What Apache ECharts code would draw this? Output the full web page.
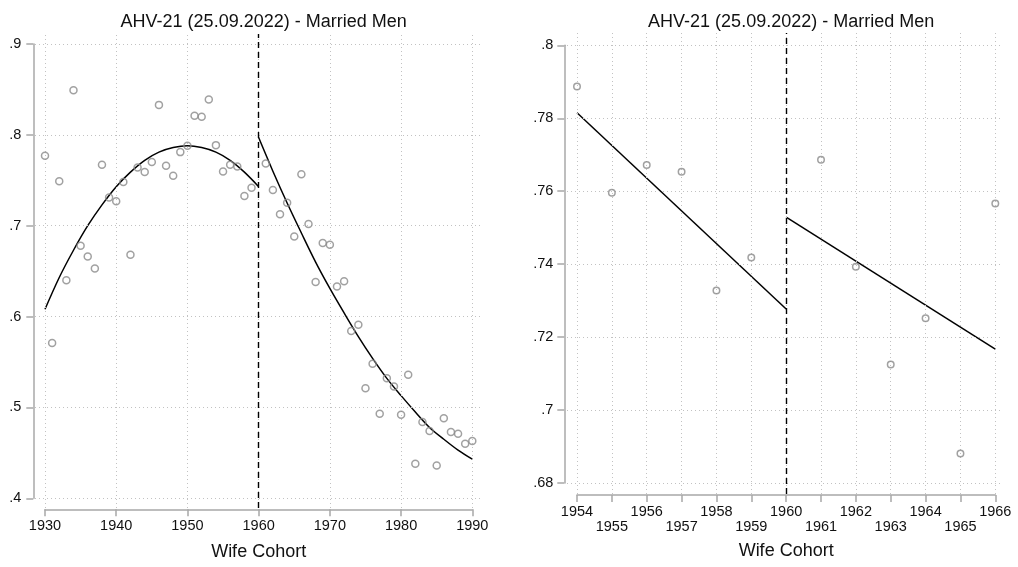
<!DOCTYPE html>
<html>
<head>
<meta charset="utf-8">
<title>AHV-21 (25.09.2022) - Married Men</title>
<script src="https://cdn.jsdelivr.net/npm/echarts@6/dist/echarts.min.js"></script>
<style>
  html, body { margin: 0; padding: 0; background: #fff; }
  #chart { width: 1018px; height: 567px; }
</style>
</head>
<body>
<div id="chart"></div>
<script>
// ---- data ---------------------------------------------------------------
const chartTitle = 'AHV-21 (25.09.2022) - Married Men';
const xTitle = 'Wife Cohort';
const cutoff = 1960;

// share by wife birth cohort (no observation for 1960)
const cohorts = [
  1930, 1931, 1932, 1933, 1934, 1935, 1936, 1937, 1938, 1939,
  1940, 1941, 1942, 1943, 1944, 1945, 1946, 1947, 1948, 1949,
  1950, 1951, 1952, 1953, 1954, 1955, 1956, 1957, 1958, 1959,
  1961, 1962, 1963, 1964, 1965, 1966, 1967, 1968, 1969,
  1970, 1971, 1972, 1973, 1974, 1975, 1976, 1977, 1978, 1979,
  1980, 1981, 1982, 1983, 1984, 1985, 1986, 1987, 1988, 1989, 1990
];
const shares = [
  0.777, 0.571, 0.749, 0.640, 0.849, 0.678, 0.666, 0.653, 0.767, 0.731,
  0.727, 0.748, 0.668, 0.764, 0.759, 0.770, 0.833, 0.766, 0.755, 0.781,
  0.788, 0.821, 0.820, 0.839, 0.7887, 0.7596, 0.7672, 0.7653, 0.7328, 0.7418,
  0.7686, 0.7393, 0.7125, 0.7252, 0.6881, 0.7566, 0.702, 0.638, 0.681,
  0.679, 0.633, 0.639, 0.584, 0.591, 0.521, 0.548, 0.493, 0.532, 0.523,
  0.492, 0.536, 0.438, 0.484, 0.474, 0.436, 0.488, 0.473, 0.471, 0.460, 0.463
];

// quadratic fits, full window
const fitPreYears  = [1930, 1932, 1934, 1936, 1938, 1940, 1942, 1944, 1946, 1948, 1950, 1952, 1954, 1956, 1958, 1960];
const fitPreVals   = [0.608, 0.643, 0.673, 0.700, 0.723, 0.743, 0.759, 0.772, 0.781, 0.786, 0.788, 0.786, 0.781, 0.772, 0.759, 0.743];
const fitPostYears = [1960, 1962, 1964, 1966, 1968, 1970, 1972, 1974, 1976, 1978, 1980, 1982, 1984, 1986, 1988, 1990];
const fitPostVals  = [0.797, 0.760, 0.725, 0.692, 0.660, 0.631, 0.604, 0.578, 0.554, 0.532, 0.513, 0.495, 0.478, 0.465, 0.453, 0.443];

// linear fits, narrow window
const linPreYears  = [1954, 1960];
const linPreVals   = [0.7815, 0.7277];
const linPostYears = [1960, 1966];
const linPostVals  = [0.7529, 0.7167];

// tick values
const wideXTicks   = [1930, 1940, 1950, 1960, 1970, 1980, 1990];
const wideYTicks   = [0.4, 0.5, 0.6, 0.7, 0.8, 0.9];
const narrowXTicks = [1954, 1955, 1956, 1957, 1958, 1959, 1960, 1961, 1962, 1963, 1964, 1965, 1966];
const narrowYTicks = [0.68, 0.70, 0.72, 0.74, 0.76, 0.78, 0.80];

// ---- layout -------------------------------------------------------------
const FONT = '"Liberation Sans", Arial, Helvetica, sans-serif';
const AXIS_GREY = '#a8a8a8';
const GRID_GREY = '#c2c2c2';
const MARKER_GREY = '#8a8a8a';

function zip(xs, ys) { return xs.map((x, i) => [x, ys[i]]); }
function windowPoints(lo, hi) {
  const out = [];
  cohorts.forEach((c, i) => { if (c >= lo && c <= hi) out.push([c, shares[i]]); });
  return out;
}
function stripZero(v) {
  return String(+(+v).toFixed(2)).replace(/^0(?=\.)/, '');
}

const panels = [
  {
    plot:  { x: 45,  y: 44,   w: 427.3, h: 454.3 },
    frame: { x: 35,  y: 34,   w: 448,   h: 474 },
    xTicks: wideXTicks, yTicks: wideYTicks, xStep: 10, yStep: 0.1,
    points: windowPoints(1930, 1990),
    fits: [zip(fitPreYears, fitPreVals), zip(fitPostYears, fitPostVals)],
    smooth: true, symbolSize: 7,
    xOffset: 11, yOffset: 11.7, yMargin: 12, nameGap: 33.5, stagger: false
  },
  {
    plot:  { x: 577, y: 45.3, w: 418.3, h: 437.7 },
    frame: { x: 567, y: 33,   w: 436,   h: 461 },
    xTicks: narrowXTicks, yTicks: narrowYTicks, xStep: 1, yStep: 0.02,
    points: windowPoints(1954, 1966),
    fits: [zip(linPreYears, linPreVals), zip(linPostYears, linPostVals)],
    smooth: false, symbolSize: 6.5,
    xOffset: 12, yOffset: 12.7, yMargin: 11, nameGap: 47.5, stagger: true
  }
];

const option = {
  animation: false,
  backgroundColor: '#fff',
  textStyle: { fontFamily: FONT },
  title: [], grid: [], xAxis: [], yAxis: [], series: []
};

panels.forEach((p, k) => {
  const x0 = p.xTicks[0], x1 = p.xTicks[p.xTicks.length - 1];
  const y0 = p.yTicks[0], y1 = p.yTicks[p.yTicks.length - 1];
  const sx = (x1 - x0) / p.plot.w, sy = (y1 - y0) / p.plot.h;

  // outer plot region (grid lines + marks), scaled to line up with the axes below
  const frameMinX = x0 - (p.plot.x - p.frame.x) * sx;
  const frameMaxX = x1 + ((p.frame.x + p.frame.w) - (p.plot.x + p.plot.w)) * sx;
  const frameMaxY = y1 + (p.plot.y - p.frame.y) * sy;
  const frameMinY = y0 - ((p.frame.y + p.frame.h) - (p.plot.y + p.plot.h)) * sy;

  const gFrame = option.grid.length;
  option.grid.push({ left: p.frame.x, top: p.frame.y, width: p.frame.w, height: p.frame.h, containLabel: false });
  option.xAxis.push({ gridIndex: gFrame, type: 'value', min: frameMinX, max: frameMaxX, show: false });
  option.yAxis.push({ gridIndex: gFrame, type: 'value', min: frameMinY, max: frameMaxY, show: false });

  // axis grid: only the tick range, axes pushed out from it
  const gAxis = option.grid.length;
  option.grid.push({ left: p.plot.x, top: p.plot.y, width: p.plot.w, height: p.plot.h, containLabel: false });
  option.xAxis.push({
    gridIndex: gAxis, type: 'value', position: 'bottom',
    min: x0, max: x1, interval: p.xStep, offset: p.xOffset,
    axisLine: { show: true, lineStyle: { color: AXIS_GREY, width: 1.5 } },
    axisTick: { show: true, length: 7, lineStyle: { color: AXIS_GREY, width: 1.5 } },
    axisLabel: {
      show: true, margin: 9.5, color: '#111', fontSize: 14.5, lineHeight: 15, fontFamily: FONT,
      showMinLabel: true, showMaxLabel: true,
      formatter: v => (p.stagger && (Math.round(v) - x0) % 2 === 1 ? '\n' + v : String(v))
    },
    splitLine: { show: false },
    name: xTitle, nameLocation: 'middle', nameGap: p.nameGap,
    nameTextStyle: { fontSize: 18, color: '#111', fontFamily: FONT }
  });
  option.yAxis.push({
    gridIndex: gAxis, type: 'value', position: 'left',
    min: y0, max: y1, interval: p.yStep, offset: p.yOffset,
    axisLine: { show: true, lineStyle: { color: AXIS_GREY, width: 1.5 } },
    axisTick: { show: true, length: 7, lineStyle: { color: AXIS_GREY, width: 1.5 } },
    axisLabel: {
      show: true, margin: p.yMargin, color: '#111', fontSize: 14.5, fontFamily: FONT,
      showMinLabel: true, showMaxLabel: true, formatter: stripZero
    },
    splitLine: { show: false }
  });

  option.title.push({
    text: chartTitle, left: p.plot.x + p.plot.w / 2, top: 8, textAlign: 'center',
    textStyle: { fontSize: 18, fontWeight: 'normal', color: '#111', fontFamily: FONT }
  });

  // dotted grid lines at every tick
  option.series.push({
    type: 'line', xAxisIndex: gFrame, yAxisIndex: gFrame, data: [], z: 1, silent: true,
    markLine: {
      silent: true, symbol: 'none', label: { show: false },
      lineStyle: { color: GRID_GREY, width: 1, type: [1, 3] },
      emphasis: { disabled: true },
      data: p.xTicks.map(v => ({ xAxis: v })).concat(p.yTicks.map(v => ({ yAxis: v })))
    }
  });

  // cutoff cohort
  option.series.push({
    type: 'line', xAxisIndex: gFrame, yAxisIndex: gFrame, data: [], z: 3, silent: true,
    markLine: {
      silent: true, symbol: 'none', label: { show: false },
      lineStyle: { color: '#000', width: 1.4, type: [6, 4] },
      emphasis: { disabled: true },
      data: [{ xAxis: cutoff }]
    }
  });

  // fitted lines on each side of the cutoff
  p.fits.forEach(seg => {
    option.series.push({
      type: 'line', xAxisIndex: gFrame, yAxisIndex: gFrame, data: seg, z: 4,
      smooth: p.smooth ? 0.35 : false, showSymbol: false, silent: true, clip: false,
      lineStyle: { color: '#000', width: 1.5 }
    });
  });

  // cohort means
  option.series.push({
    type: 'scatter', xAxisIndex: gFrame, yAxisIndex: gFrame, data: p.points, z: 5,
    symbol: 'circle', symbolSize: p.symbolSize, silent: true, clip: false,
    itemStyle: { color: 'rgba(255,255,255,0)', borderColor: MARKER_GREY, borderWidth: 1.5 }
  });
});

const chart = echarts.init(document.getElementById('chart'), null, { renderer: 'canvas' });
chart.setOption(option);
</script>
</body>
</html>
